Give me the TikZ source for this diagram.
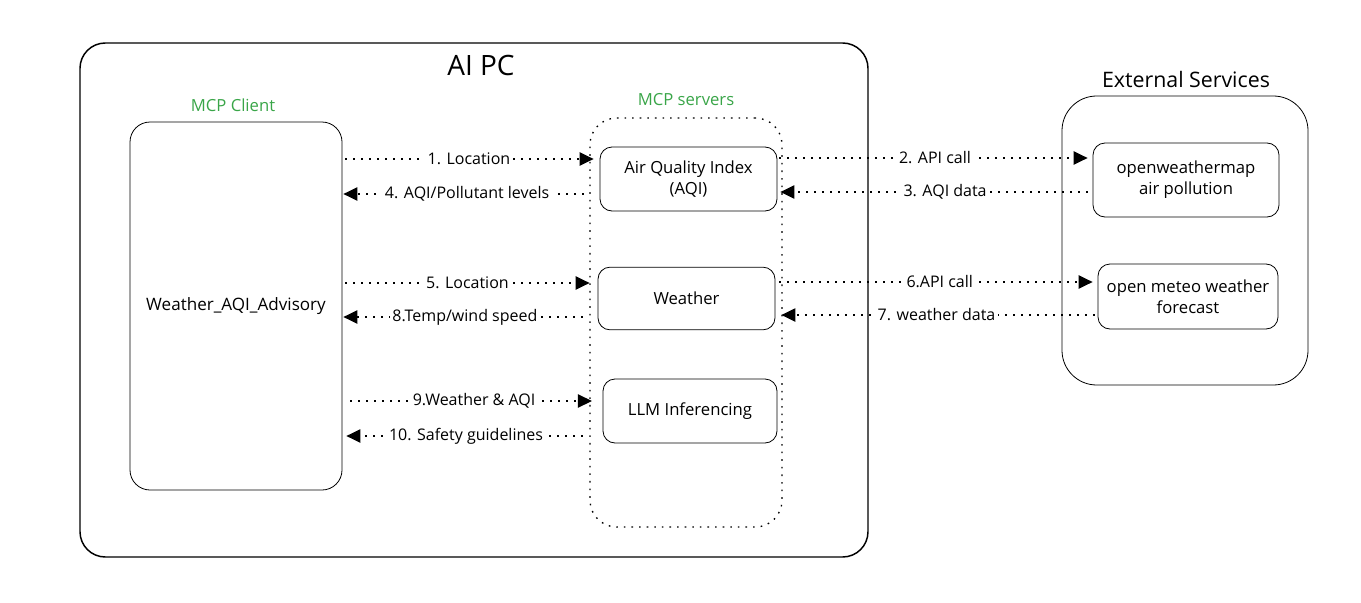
\documentclass[tikz,border=0pt]{standalone}
\usepackage{fontspec}
\setmainfont{Open Sans}
\usepackage{tikz}
\usetikzlibrary{arrows.meta,positioning}
\definecolor{mcpgreen}{RGB}{57,165,72}

\begin{document}
\begin{tikzpicture}[
  x=0.75pt, y=-0.75pt,
  outer/.style={rectangle, draw, line width=1.1pt, rounded corners=19pt,
    minimum width=591pt, minimum height=385.5pt, inner sep=0pt},
  group/.style={rectangle, draw, line width=0.6pt, rounded corners=15pt, inner sep=0pt,
    font=\fontsize{12.8}{15}\selectfont},
  srvbox/.style={rectangle, draw, line width=0.6pt, rounded corners=9pt,
    minimum width=132.75pt, minimum height=48pt, inner sep=0pt, align=center,
    font=\fontsize{12.5}{16}\selectfont},
  title/.style={font=\fontsize{12.5}{14}\selectfont, text=mcpgreen},
  lbl/.style={fill=white, inner sep=2pt, font=\fontsize{12}{14}\selectfont},
  flow/.style={line width=0.9pt, dash pattern=on 1.2pt off 4.8pt,
    -{Triangle[length=10.5pt, width=10pt]}}
]
\useasboundingbox (0,0) rectangle (1361,603);

% AI PC
\node[outer] (aipc) at (474,300) {};
\node[font=\fontsize{21}{23}\selectfont] (aipctitle) at (481,65) {AI PC};

% Client
\node[title] (clienttitle) at (233,105) {MCP Client};
\node[group, minimum width=159pt, minimum height=276pt] (client) at (236,306) {Weather\_AQI\_Advisory};

% Servers
\node[title] (srvtitle) at (686,100) {MCP servers};
\node[group, line width=1pt, dash pattern=on 1.2pt off 4.5pt, rounded corners=20pt, minimum width=144pt,
  minimum height=306.75pt] (servers) at (686,322.5) {};
\node[srvbox] (aqi) at (688.5,179) {Air Quality Index\\(AQI)};
\node[srvbox, minimum height=47pt] (weather) at (686.5,298.5) {Weather};
\node[srvbox, minimum width=130.5pt] (llm) at (690,411) {LLM Inferencing};

% External
\node[font=\fontsize{16}{18}\selectfont] (exttitle) at (1186,79) {External Services};
\node[group, rounded corners=26pt, minimum width=184.5pt, minimum height=216.75pt] (external) at (1185,240.5) {};
\node[srvbox, minimum width=139.5pt, minimum height=55.5pt] (owm) at (1186,180) {openweathermap\\air pollution};
\node[srvbox, minimum width=135pt, minimum height=48.75pt] (meteo) at (1188,296.5) {open meteo weather\\forecast};

% Client <-> servers
\draw[flow, shorten <=2.25pt, shorten >=4.5pt] (client.east |- 0,159) -- (aqi.west |- 0,159)
  node[lbl, pos=0.492] {1. Location};
\draw[flow, shorten <=12pt, shorten >=0.75pt] (aqi.west |- 0,194) -- (client.east |- 0,194)
  node[lbl, pos=0.515] {4. AQI/Pollutant levels};
\draw[flow, shorten <=2.25pt, shorten >=6pt] (client.east |- 0,283) -- (weather.west |- 0,283)
  node[lbl, pos=0.49] {5. Location};
\draw[flow, shorten <=11pt, shorten >=0.75pt] (weather.west |- 0,317) -- (client.east |- 0,317)
  node[lbl, pos=0.52] {8.Temp/wind speed};
\draw[flow, shorten <=6pt, shorten >=8pt] (client.east |- 0,401) -- (llm.west |- 0,401)
  node[lbl, pos=0.506] {9.Weather \& AQI};
\draw[flow, shorten <=15pt, shorten >=3pt] (llm.west |- 0,436) -- (client.east |- 0,436)
  node[lbl, pos=0.525] {10. Safety guidelines};

% Servers <-> external
\draw[flow, shorten <=1.5pt, shorten >=3.75pt] (aqi.east |- 0,158) -- (owm.west |- 0,158)
  node[lbl, pos=0.5] {2. API call};
\draw[flow, shorten <=3.75pt, shorten >=2.25pt] (owm.west |- 0,192) -- (aqi.east |- 0,192)
  node[lbl, pos=0.468] {3. AQI data};
\draw[flow, shorten <=3pt, shorten >=3.75pt] (weather.east |- 0,282) -- (meteo.west |- 0,282)
  node[lbl, pos=0.51] {6.API call};
\draw[flow, shorten <=2.25pt, shorten >=4.5pt] (meteo.west |- 0,315) -- (weather.east |- 0,315)
  node[lbl, pos=0.5] {7. weather data};

\end{tikzpicture}
\end{document}
